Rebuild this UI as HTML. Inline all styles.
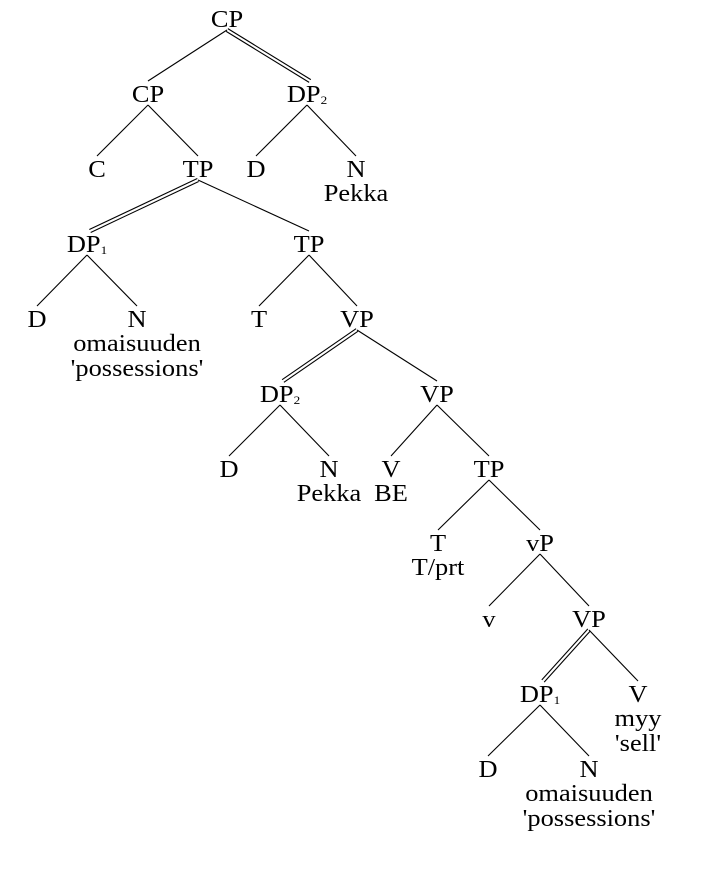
<!DOCTYPE html>
<html><head><meta charset="utf-8"><style>
body{margin:0;background:#fff;}
svg text{font-family:"Liberation Serif",serif;font-size:24px;fill:#000;text-anchor:middle;}
</style></head><body>
<svg id="tree" width="722" height="870" viewBox="0 0 722 870" xmlns="http://www.w3.org/2000/svg">
<g id="lines"></g>
<g id="labels"></g>
</svg>
<script>
// node: [id, label, sub, x, baselineY, extraLines]
const nodes = [
 ["cp0","CP","",227,27,[]],
 ["cp1","CP","",148,102,[]],
 ["dp2a","DP","2",307,102,[]],
 ["c","C","",97,177,[]],
 ["tp1","TP","",198,177,[]],
 ["d1","D","",256,177,[]],
 ["n1","N","",356,177,["Pekka"]],
 ["dp1a","DP","1",87,252,[]],
 ["tp2","TP","",309,252,[]],
 ["d2","D","",37,327,[]],
 ["n2","N","",137,327,["omaisuuden","'possessions'"]],
 ["t1","T","",259,327,[]],
 ["vp1","VP","",357,327,[]],
 ["dp2b","DP","2",280,402,[]],
 ["vp2","VP","",437,402,[]],
 ["d3","D","",229,477,[]],
 ["n3","N","",329,477,["Pekka"]],
 ["v1","V","",391,477,["BE"]],
 ["tp3","TP","",489,477,[]],
 ["t2","T","",438,551,["T/prt"]],
 ["vp3","vP","",540,551,[]],
 ["v2","v","",489,627,[]],
 ["vp4","VP","",589,627,[]],
 ["dp1b","DP","1",540,702,[]],
 ["v3","V","",638,702,["myy","'sell'"]],
 ["d4","D","",488,777,[]],
 ["n4","N","",589,777,["omaisuuden","'possessions'"]]
];
// edges: [parent, child, double]
const edges = [
 ["cp0","cp1",0],["cp0","dp2a",1],
 ["cp1","c",0],["cp1","tp1",0],["dp2a","d1",0],["dp2a","n1",0],
 ["tp1","dp1a",1],["tp1","tp2",0],
 ["dp1a","d2",0],["dp1a","n2",0],["tp2","t1",0],["tp2","vp1",0],
 ["vp1","dp2b",1],["vp1","vp2",0],
 ["dp2b","d3",0],["dp2b","n3",0],["vp2","v1",0],["vp2","tp3",0],
 ["tp3","t2",0],["tp3","vp3",0],["vp3","v2",0],["vp3","vp4",0],
 ["vp4","dp1b",1],["vp4","v3",0],["dp1b","d4",0],["dp1b","n4",0]
];
const NS="http://www.w3.org/2000/svg";
const L=document.getElementById('labels'), G=document.getElementById('lines');
const byId={};
const SX=1.1;
function place(t,x,y){t.setAttribute('x',0);t.setAttribute('y',0);t.setAttribute('transform','translate('+x+','+y+') scale('+SX+',1)');}
nodes.forEach(n=>{byId[n[0]]=n;
 const t=document.createElementNS(NS,'text');
 
 
 place(t,n[3],n[4]);
 t.textContent=n[1];
 if(n[2]){const s=document.createElementNS(NS,'tspan');s.setAttribute('font-size','12');s.setAttribute('dy','2');s.textContent=n[2];t.appendChild(s);}
 L.appendChild(t);
 n[5].forEach((w,i)=>{const e=document.createElementNS(NS,'text');
  
  
  place(e,n[3],n[4]+25*(i+1)-1);e.textContent=w;L.appendChild(e);});
});
function ln(x1,y1,x2,y2){const l=document.createElementNS(NS,'line');
 
 
 l.setAttribute('x1',x1);l.setAttribute('y1',y1);l.setAttribute('x2',x2);l.setAttribute('y2',y2);
 l.setAttribute('stroke','#000');l.setAttribute('stroke-width','1.1');G.appendChild(l);}
edges.forEach(e=>{const p=byId[e[0]],c=byId[e[1]];
 const x1=p[3],y1=p[4]+3,x2=c[3]+(c[2]?3:0),y2=c[4]-21;
 if(e[2]){const dx=x2-x1,dy=y2-y1,len=Math.hypot(dx,dy),ox=-dy/len*1.6,oy=dx/len*1.6;
  ln(x1+ox,y1+oy,x2+ox,y2+oy);ln(x1-ox,y1-oy,x2-ox,y2-oy);}
 else ln(x1,y1,x2,y2);
});
</script>
</body></html>
